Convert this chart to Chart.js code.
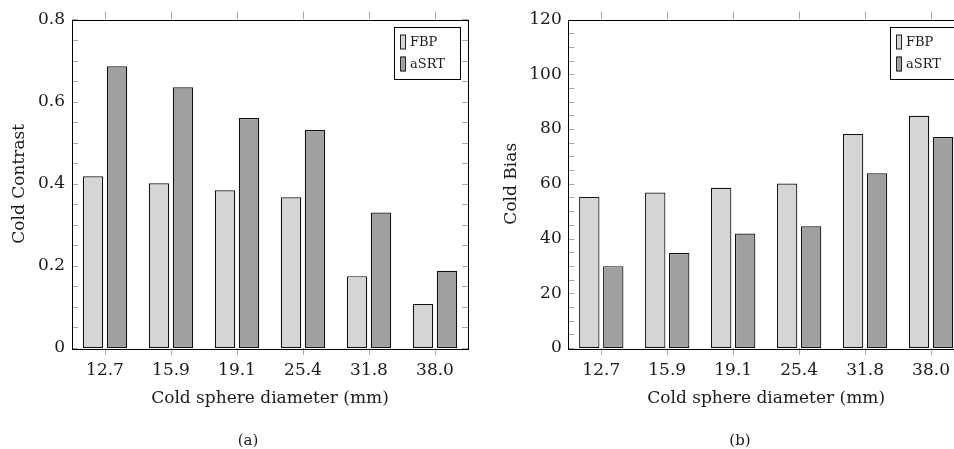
<!DOCTYPE html>
<html>
<head>
<meta charset="utf-8">
<script src="https://cdn.jsdelivr.net/npm/chart.js@4/dist/chart.umd.min.js"></script>
<style>
  html, body { margin: 0; padding: 0; background: #fff; overflow: hidden; width: 954px; height: 449px; }
  .box { position: absolute; top: 0; height: 449px; }
  #boxA { left: 0; width: 480px; }
  #boxB { left: 480px; width: 496px; }
</style>
</head>
<body>
<div class="box" id="boxA"><canvas id="chartA"></canvas></div>
<div class="box" id="boxB"><canvas id="chartB"></canvas></div>
<script>
/* data */
const diameters = ["12.7", "15.9", "19.1", "25.4", "31.8", "38.0"];
const contrastFBP = [0.418, 0.401, 0.384, 0.367, 0.175, 0.107];
const contrastASRT = [0.686, 0.635, 0.56, 0.531, 0.33, 0.188];
const biasFBP = [55.2, 56.8, 58.5, 60.1, 78.2, 84.8];
const biasASRT = [29.9, 34.7, 41.8, 44.5, 63.8, 77.1];

const SERIF = "'DejaVu Serif', 'Liberation Serif', serif";
const TXT = "#1a1a1a";
const FBP_COLOR = "#d4d5d4";
const ASRT_COLOR = "#a0a0a0";

// frame, pgfplots-like ticks, boxed legend, sub caption
const frameTicks = {
  id: "frameTicks",
  afterDatasetsDraw(chart, args, opts) {
    const { ctx, chartArea: { left, right, top, bottom }, scales } = chart;
    const y = scales.y, x = scales.x;
    ctx.save();
    ctx.strokeStyle = "#aaaaaa";
    ctx.lineWidth = 1;
    ctx.beginPath();
    for (let v = 0; v <= opts.max + 1e-9; v += opts.minor) {
      const py = Math.round(y.getPixelForValue(v)) + 0.5;
      ctx.moveTo(left, py); ctx.lineTo(left + 6, py);
      ctx.moveTo(right, py); ctx.lineTo(right - 6, py);
    }
    x.ticks.forEach((t, i) => {
      const px = Math.round(x.getPixelForTick(i)) + 0.5;
      ctx.moveTo(px, top); ctx.lineTo(px, top - 8);
      ctx.moveTo(px, bottom); ctx.lineTo(px, bottom + 7);
    });
    ctx.stroke();

    ctx.strokeStyle = "#000";
    ctx.strokeRect(Math.round(left) + 0.5, Math.round(top) + 0.5,
      Math.round(right - left), Math.round(bottom - top));

    // legend
    const lx = right - 74, ly = top + 7, lw = 66, lh = 52;
    ctx.fillStyle = "#fff";
    ctx.fillRect(lx, ly, lw, lh);
    ctx.strokeRect(Math.round(lx) + 0.5, Math.round(ly) + 0.5, lw, lh);
    ctx.font = "13px " + SERIF;
    ctx.textBaseline = "middle";
    chart.data.datasets.forEach((ds, i) => {
      const ry = ly + 8 + i * 22;
      ctx.fillStyle = ds.backgroundColor;
      ctx.fillRect(lx + 7, ry, 5, 15);
      ctx.strokeStyle = "#222";
      ctx.strokeRect(lx + 6.5, ry + 0.5, 5, 14);
      ctx.fillStyle = TXT;
      ctx.fillText(ds.label, lx + 16, ry + 8);
    });

    ctx.font = "15px " + SERIF;
    ctx.textAlign = "center";
    ctx.fillStyle = TXT;
    ctx.fillText(opts.caption, opts.captionX, 441);
    ctx.restore();
  },
};

Chart.register(frameTicks);

function makeChart(id, fbp, asrt, o) {
  return new Chart(document.getElementById(id), {
    type: "bar",
    data: {
      labels: diameters,
      datasets: [
        { label: "FBP", data: fbp, backgroundColor: FBP_COLOR, borderColor: "#111", borderWidth: 1.2, borderSkipped: false },
        { label: "aSRT", data: asrt, backgroundColor: ASRT_COLOR, borderColor: "#111", borderWidth: 1.2, borderSkipped: false },
      ],
    },
    options: {
      responsive: true,
      maintainAspectRatio: false,
      animation: false,
      datasets: { bar: { categoryPercentage: 0.727, barPercentage: 0.85 } },
      layout: { padding: { left: 0, right: 12, top: 19.5, bottom: 0 } },
      plugins: {
        legend: { display: false },
        tooltip: { enabled: false },
        frameTicks: { max: o.max, minor: o.minor, caption: o.caption, captionX: o.captionX },
      },
      scales: {
        x: {
          grid: { display: false, drawTicks: false },
          border: { display: false },
          ticks: { color: TXT, font: { family: SERIF, size: 17 }, padding: 12, maxRotation: 0 },
          title: { display: true, text: "Cold sphere diameter (mm)", color: TXT,
            font: { family: SERIF, size: 17 }, padding: { top: 0, bottom: 39.8 } },
          afterFit(s) { s.height = 101; },
        },
        y: {
          min: 0, max: o.max,
          grid: { display: false, drawTicks: false },
          border: { display: false },
          ticks: { stepSize: o.step, color: TXT, font: { family: SERIF, size: 17 }, padding: o.tickPad,
            callback: (v) => (v === 0 ? "0" : o.fmt(v)) },
          title: { display: true, text: o.title, color: TXT,
            font: { family: SERIF, size: 17 }, padding: { top: o.titlePad, bottom: 0 } },
          afterFit(s) { s.width = o.yWidth; },
        },
      },
    },
  });
}

makeChart("chartA", contrastFBP, contrastASRT, {
  max: 0.8, step: 0.2, minor: 0.05, title: "Cold Contrast", fmt: (v) => v.toFixed(1),
  tickPad: 7, titlePad: 9.8, yWidth: 72, caption: "(a)", captionX: 248,
});
makeChart("chartB", biasFBP, biasASRT, {
  max: 120, step: 20, minor: 5, title: "Cold Bias", fmt: (v) => String(Math.round(v)),
  tickPad: 6.6, titlePad: 21.5, yWidth: 88.3, caption: "(b)", captionX: 260,
});
</script>
</body>
</html>
